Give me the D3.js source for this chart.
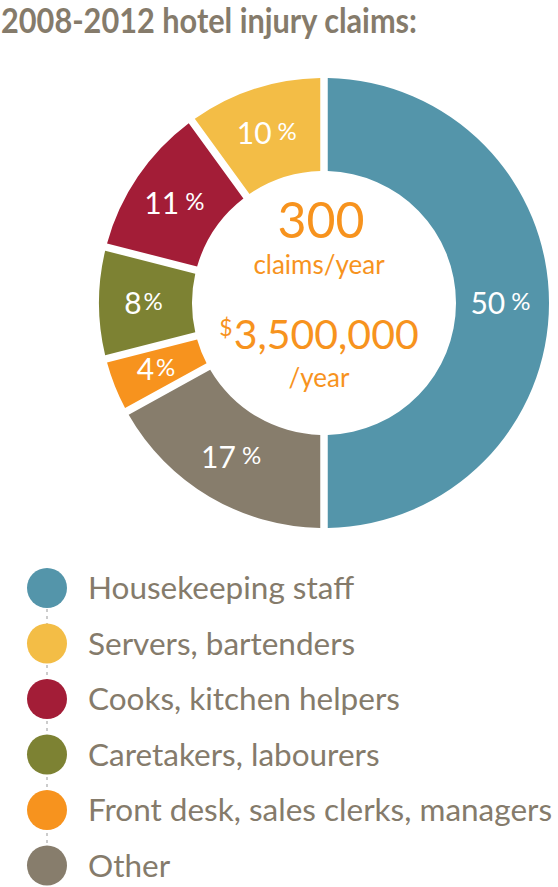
<!DOCTYPE html>
<meta charset="utf-8">
<title>hotel injury claims</title>
<script src="https://d3js.org/d3.v7.min.js"></script>
<style>
  body { margin: 0; background: #fff; }
  text { font-family: Lato, "Open Sans", sans-serif; }
</style>
<body>
<div id="chart"></div>
<script>
  // data
  var categories = ["Housekeeping staff", "Servers, bartenders", "Cooks, kitchen helpers",
                    "Caretakers, labourers", "Front desk, sales clerks, managers", "Other"];
  var shares = [50, 10, 11, 8, 4, 17];
  var colors = ["#5495aa", "#f3bd46", "#a31d37", "#7d8233", "#f7931e", "#877d6c"];
  var titleText = "2008-2012 hotel injury claims:";
  var claims = "300", claimsUnit = "claims/year";
  var cost = "3,500,000", costUnit = "/year";

  var width = 558, height = 887;
  var cx = 324, cy = 303, r0 = 132, r1 = 225;
  var grey = "#857b6b", orange = "#f7931e";

  var svg = d3.select("#chart").append("svg")
      .attr("width", width)
      .attr("height", height);

  svg.append("text")
      .attr("x", 1)
      .attr("y", 33)
      .attr("font-size", "33.5px")
      .attr("font-weight", 700)
      .attr("fill", grey)
      .attr("textLength", 416)
      .attr("lengthAdjust", "spacingAndGlyphs")
      .text(titleText);

  var data = categories.map(function(c, i) { return {name: c, value: shares[i], color: colors[i]}; });

  // legend order runs counter-clockwise from the top, housekeeping fills the right half
  var pie = d3.pie()
      .sort(null)
      .value(function(d) { return d.value; })
      .startAngle(Math.PI)
      .endAngle(-Math.PI);

  var arc = d3.arc()
      .innerRadius(r0)
      .outerRadius(r1)
      .padRadius(r1)
      .padAngle(7.5 / r1);

  var g = svg.append("g")
      .attr("transform", "translate(" + cx + "," + cy + ")");

  var arcs = pie(data);

  g.selectAll("path")
    .data(arcs)
    .join("path")
      .attr("d", arc)
      .attr("fill", function(d) { return d.data.color; });

  // percentage labels, % sign smaller and raised
  var lab = g.selectAll("text.pct")
    .data(arcs)
    .join("text")
      .attr("class", "pct")
      .attr("text-anchor", "middle")
      .attr("fill", "#fff")
      .attr("transform", function(d) {
        var c = arc.centroid(d);
        return "translate(" + (c[0] - 2) + "," + (c[1] + 11) + ")";
      });
  lab.append("tspan")
      .attr("font-size", "30px")
      .text(function(d) { return d.data.value; });
  lab.append("tspan")
      .attr("font-size", "24px")
      .attr("dx", function(d) { return d.data.value >= 10 ? 6 : 2; })
      .attr("dy", -4)
      .text("%");

  // centre figures
  var ctr = g.append("g").attr("fill", orange).attr("text-anchor", "middle");
  ctr.append("text")
      .attr("x", -3).attr("y", -65)
      .attr("font-size", "50px")
      .text(claims);
  ctr.append("text")
      .attr("x", -5).attr("y", -29)
      .attr("font-size", "26px")
      .text(claimsUnit);
  var money = ctr.append("text")
      .attr("x", -5).attr("y", 46);
  money.append("tspan")
      .attr("font-size", "23px")
      .attr("dy", -13)
      .text("$");
  money.append("tspan")
      .attr("font-size", "41px")
      .attr("dx", 1)
      .attr("dy", 13)
      .text(cost);
  ctr.append("text")
      .attr("x", -5).attr("y", 84)
      .attr("font-size", "26px")
      .text(costUnit);

  // legend
  var ly = d3.scalePoint()
      .domain(categories)
      .range([588, 865.5]);

  var leg = svg.append("g");
  leg.append("line")
      .attr("x1", 47).attr("x2", 47)
      .attr("y1", ly(categories[0]))
      .attr("y2", ly(categories[categories.length - 1]))
      .attr("stroke", "#bcbcbc")
      .attr("stroke-width", 1.5)
      .attr("stroke-dasharray", "3,4");

  var item = leg.selectAll("g.item")
    .data(data)
    .join("g")
      .attr("class", "item")
      .attr("transform", function(d) { return "translate(0," + ly(d.name) + ")"; });
  item.append("circle")
      .attr("cx", 47)
      .attr("r", 20)
      .attr("fill", function(d) { return d.color; });
  item.append("text")
      .attr("x", 88)
      .attr("y", 11)
      .attr("font-size", "31.5px")
      .attr("fill", grey)
      .text(function(d) { return d.name; });
</script>
</body>
